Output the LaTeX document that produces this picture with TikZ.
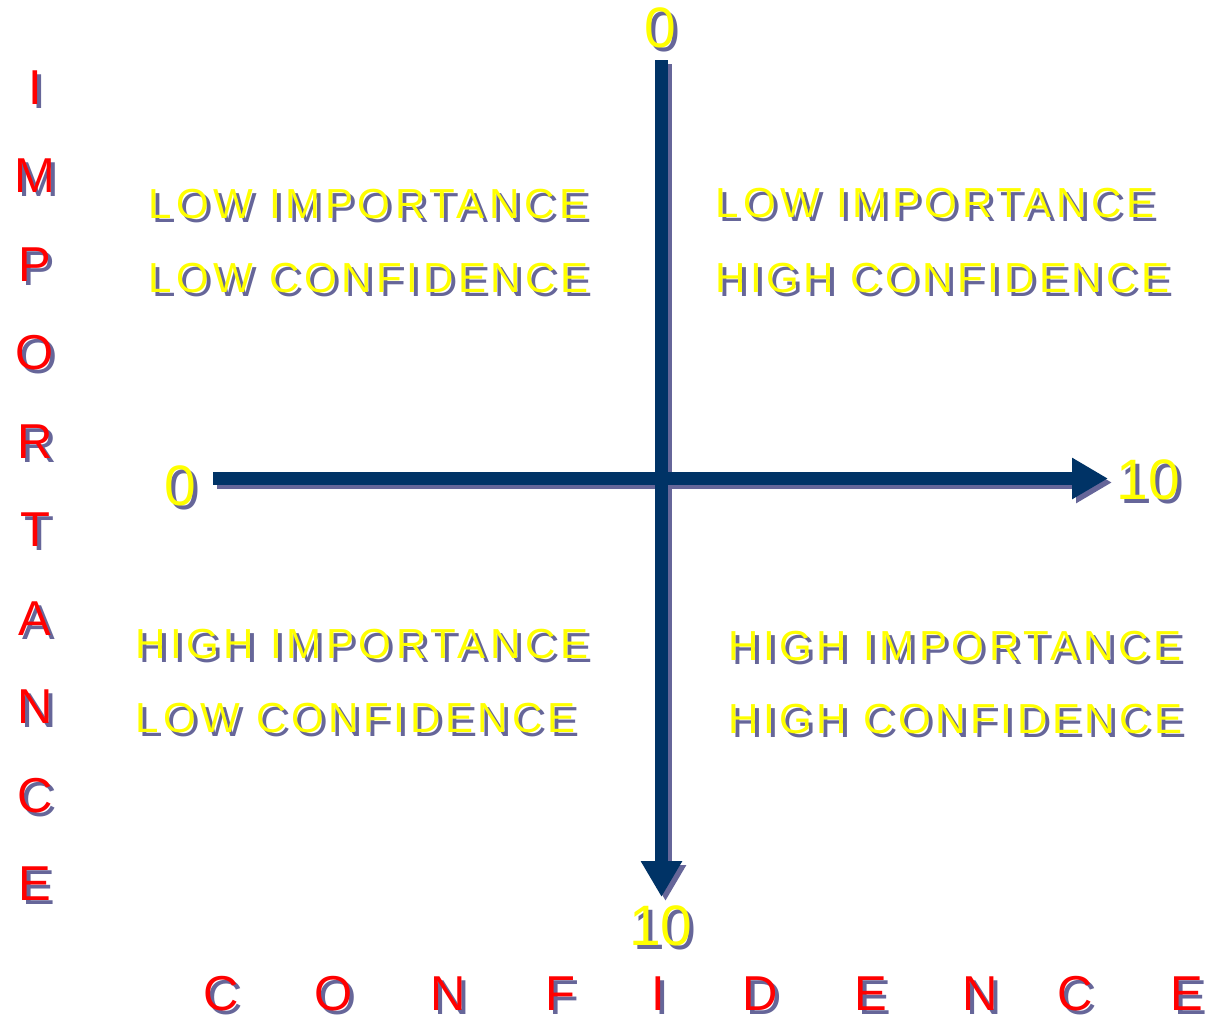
\documentclass[tikz,border=0pt]{standalone}
\usepackage{fontspec}
\setmainfont{Liberation Sans}
\newfontfamily\quadfont[LetterSpace=11]{Liberation Sans}
\usetikzlibrary{arrows.meta}
\definecolor{axiscol}{HTML}{003366}
\definecolor{shadowcol}{HTML}{666699}
\definecolor{ylw}{HTML}{FFFF00}
\definecolor{rd}{HTML}{FF0000}
\tikzset{
  quad/.style={font=\quadfont\fontsize{42}{48}\selectfont, inner sep=0pt, anchor=base west},
  num/.style={font=\fontsize{57}{60}\selectfont, inner sep=0pt, anchor=base},
  axletter/.style={font=\fontsize{49}{52}\selectfont, inner sep=0pt, anchor=base},
  cfletter/.style={font=\fontsize{49}{52}\selectfont, inner sep=0pt, anchor=base west},
  axisline/.style={line width=13pt, -{Triangle[length=36pt,width=39pt]}},
}
\newcommand\shadowed[5]{%
  \node[#3, text=shadowcol, xshift=4pt, yshift=-4pt] (#1s) at #2 {#5};
  \node[#3, text=#4] (#1) at #2 {#5};
}
\begin{document}
\begin{tikzpicture}[x=1pt,y=-1pt]
\useasboundingbox (0,0) rectangle (1207,1020);
\fill[white] (0,0) rectangle (1207,1020);
% axes
\coordinate (vtop) at (661.5,60);
\coordinate (vbot) at (661.5,897);
\coordinate (hleft) at (213,478.5);
\coordinate (hright) at (1108,478.5);
\draw[axisline, shadowcol] ([xshift=4pt,yshift=-4pt]vtop) -- ([xshift=4pt,yshift=-4pt]vbot);
\draw[axisline, shadowcol] ([xshift=4pt,yshift=-4pt]hleft) -- ([xshift=4pt,yshift=-4pt]hright);
\draw[axisline, axiscol] (vtop) -- (vbot);
\draw[axisline, axiscol] (hleft) -- (hright);
% axis numbers
\shadowed{ntop}{(660,47)}{num}{ylw}{0}
\shadowed{nleft}{(180,505)}{num}{ylw}{0}
\shadowed{nright}{(1148,499)}{num}{ylw}{10}
\shadowed{nbot}{(661,945)}{num}{ylw}{10}
% quadrant texts
\shadowed{tla}{(148,218)}{quad}{ylw}{LOW IMPORTANCE}
\shadowed{tlb}{(148,292)}{quad}{ylw}{LOW CONFIDENCE}
\shadowed{tra}{(715,217)}{quad}{ylw}{LOW IMPORTANCE}
\shadowed{trb}{(715,292)}{quad}{ylw}{HIGH CONFIDENCE}
\shadowed{bla}{(135,658)}{quad}{ylw}{HIGH IMPORTANCE}
\shadowed{blb}{(135,732)}{quad}{ylw}{LOW CONFIDENCE}
\shadowed{bra}{(728,660)}{quad}{ylw}{HIGH IMPORTANCE}
\shadowed{brb}{(728,733)}{quad}{ylw}{HIGH CONFIDENCE}
% IMPORTANCE (vertical)
\foreach \l [count=\k from 0] in {I,M,P,O,R,T,A,N,C,E}{
  \shadowed{imp\k}{(35,104+88.5*\k)}{axletter}{rd}{\l}
}
% CONFIDENCE (horizontal)
\foreach \l/\xx [count=\k] in {C/203,O/314,N/430,F/545,I/651,D/742,E/854,N/962,C/1057,E/1170}{
  \shadowed{conf\k}{(\xx,1010)}{cfletter}{rd}{\l}
}
\end{tikzpicture}
\end{document}
